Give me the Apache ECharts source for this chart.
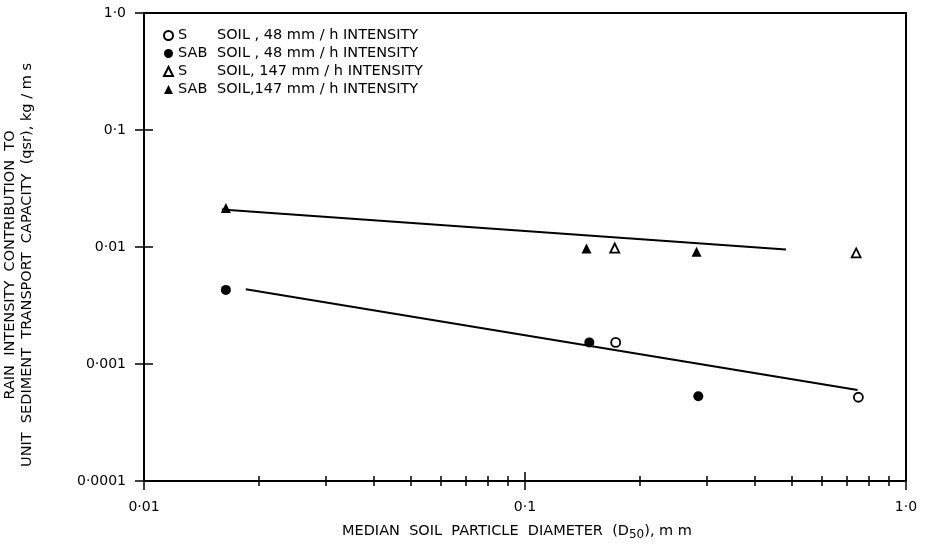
<!DOCTYPE html>
<html>
<head>
<meta charset="utf-8">
<script src="https://cdn.jsdelivr.net/npm/echarts@6/dist/echarts.min.js"></script>
<style>
  html, body { margin: 0; padding: 0; background: #fff; }
  #main { width: 927px; height: 545px; }
</style>
</head>
<body>
<div id="main"></div>
<script>
// measured points (D50 in mm, qsr in kg/m s)
var s48 = [[0.173, 0.00153], [0.75, 0.00052]];
var sab48 = [[0.0164, 0.0043], [0.1475, 0.00153], [0.285, 0.00053]];
var s147 = [[0.172, 0.0098], [0.74, 0.0089]];
var sab147 = [[0.0164, 0.0215], [0.145, 0.0097], [0.282, 0.0091]];

// fitted lines
var line147 = [[0.016, 0.0209], [0.484, 0.0095]];
var line48 = [[0.0185, 0.00435], [0.746, 0.0006]];

var seriesNames = ['S 48', 'SAB 48', 'S 147', 'SAB 147'];
var soilTypes = ['S', 'SAB', 'S', 'SAB'];
var intensityText = ['SOIL , 48 mm / h INTENSITY', 'SOIL , 48 mm / h INTENSITY', 'SOIL, 147 mm / h INTENSITY', 'SOIL,147 mm / h INTENSITY'];

var xTickLabels = ['0·01', '0·1', '1·0'];
var yTickLabels = ['0·0001', '0·001', '0·01', '0·1', '1·0'];
var xMinorTicks = [0.02, 0.03, 0.04, 0.05, 0.06, 0.07, 0.08, 0.09, 0.2, 0.3, 0.4, 0.5, 0.6, 0.7, 0.8, 0.9];

var FONT = 'DejaVu Sans';
var INK = '#000';

var chart = echarts.init(document.getElementById('main'), null, { renderer: 'canvas' });

function baseX(extra) {
  var ax = {
    type: 'log', logBase: 10, min: 0.01, max: 1, position: 'bottom',
    axisLine: { show: false }, splitLine: { show: false },
    axisLabel: { show: false }, axisTick: { show: false }
  };
  for (var k in extra) ax[k] = extra[k];
  return ax;
}
function baseY(extra) {
  var ax = {
    type: 'log', logBase: 10, min: 0.0001, max: 1, position: 'left',
    axisLine: { show: false }, splitLine: { show: false },
    axisLabel: { show: false }, axisTick: { show: false }
  };
  for (var k in extra) ax[k] = extra[k];
  return ax;
}

var option = {
  backgroundColor: '#fff',
  animation: false,
  textStyle: { fontFamily: FONT, color: INK },
  grid: {
    left: 144, right: 21, top: 13, bottom: 64,
    outerBoundsMode: 'none', containLabel: false,
    show: true, borderColor: INK, borderWidth: 2, backgroundColor: 'transparent'
  },
  legend: {
    data: seriesNames,
    orient: 'vertical',
    left: 158, top: 23,
    itemWidth: 9, itemHeight: 9, itemGap: 3,
    textStyle: {
      fontFamily: FONT, fontSize: 14.5, color: INK, lineHeight: 14,
      rich: {
        a: { width: 39, fontFamily: FONT, fontSize: 14.5, color: INK },
        b: { fontFamily: FONT, fontSize: 14.5, color: INK }
      }
    },
    formatter: function (name) {
      var i = seriesNames.indexOf(name);
      return '{a|' + soilTypes[i] + '}{b|' + intensityText[i] + '}';
    }
  },
  xAxis: [
    baseX({
      axisLine: { show: true, lineStyle: { color: INK, width: 2 } },
      axisTick: { show: true, inside: false, length: 9, lineStyle: { color: INK, width: 1.5 } },
      axisLabel: {
        show: true, margin: 19, fontSize: 14, color: INK, fontFamily: FONT,
        formatter: function (v) { return xTickLabels[Math.round(Math.log10(v)) + 2]; }
      },
      name: 'MEDIAN  SOIL  PARTICLE  DIAMETER  (D{sub|50}), m m',
      nameLocation: 'middle', nameGap: 41,
      nameTextStyle: {
        fontSize: 14.5, color: INK, fontFamily: FONT, padding: [0, 16, 0, 0],
        rich: { sub: { fontSize: 12, verticalAlign: 'bottom', padding: [7, 0, 0, 0], color: INK } }
      }
    }),
    baseX({ axisTick: { show: true, inside: true, length: 9, lineStyle: { color: INK, width: 1.5 } } }),
    baseX({ axisTick: { show: true, inside: false, length: 5, customValues: xMinorTicks, lineStyle: { color: INK, width: 1.5 } } }),
    baseX({ axisTick: { show: true, inside: true, length: 5, customValues: xMinorTicks, lineStyle: { color: INK, width: 1.5 } } })
  ],
  yAxis: [
    baseY({
      axisLine: { show: true, lineStyle: { color: INK, width: 2 } },
      axisTick: { show: true, inside: false, length: 9, lineStyle: { color: INK, width: 1.5 } },
      axisLabel: {
        show: true, margin: 18, fontSize: 14, color: INK, fontFamily: FONT,
        formatter: function (v) { return yTickLabels[Math.round(Math.log10(v)) + 4]; }
      },
      name: 'RAIN  INTENSITY  CONTRIBUTION  TO\nUNIT  SEDIMENT  TRANSPORT  CAPACITY  (qsr), kg / m s',
      nameLocation: 'middle', nameRotate: 90, nameGap: 108,
      nameTextStyle: { fontSize: 14.5, color: INK, fontFamily: FONT, lineHeight: 17, padding: [0, 36, 0, 0] }
    }),
    baseY({ axisTick: { show: true, inside: true, length: 9, lineStyle: { color: INK, width: 1.5 } } })
  ],
  series: [
    {
      name: seriesNames[0], type: 'scatter', data: s48, symbol: 'circle', symbolSize: 9,
      itemStyle: { color: '#fff', borderColor: INK, borderWidth: 1.8, opacity: 1 }, z: 5
    },
    {
      name: seriesNames[1], type: 'scatter', data: sab48, symbol: 'circle', symbolSize: 10,
      itemStyle: { color: INK, borderColor: INK, borderWidth: 0, opacity: 1 }, z: 5
    },
    {
      name: seriesNames[2], type: 'scatter', data: s147, symbol: 'triangle', symbolSize: 9,
      itemStyle: { color: '#fff', borderColor: INK, borderWidth: 1.8, opacity: 1 }, z: 5
    },
    {
      name: seriesNames[3], type: 'scatter', data: sab147, symbol: 'triangle', symbolSize: 10,
      itemStyle: { color: INK, borderColor: INK, borderWidth: 0, opacity: 1 }, z: 5
    },
    {
      name: 'fit 147', type: 'line', data: line147, symbol: 'none',
      lineStyle: { color: INK, width: 2 }, silent: true
    },
    {
      name: 'fit 48', type: 'line', data: line48, symbol: 'none',
      lineStyle: { color: INK, width: 2 }, silent: true
    }
  ]
};

chart.setOption(option);
</script>
</body>
</html>
